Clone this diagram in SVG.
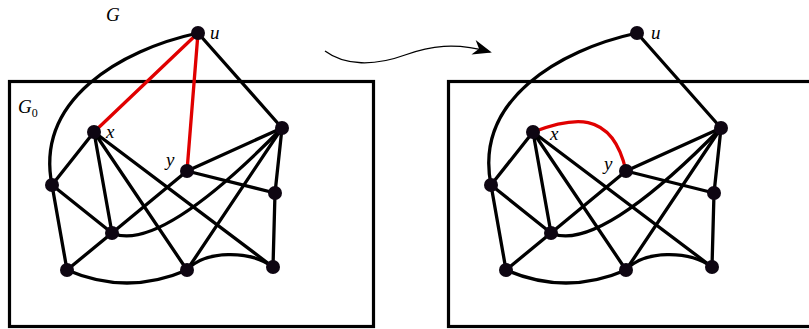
<svg xmlns="http://www.w3.org/2000/svg" width="809" height="329" viewBox="0 0 809 329">
<defs>
<style>
.e{stroke:#000;stroke-width:3.3;fill:none;stroke-linecap:round}
.r{stroke:#e00000;stroke-width:3.3;fill:none;stroke-linecap:round}
.box{stroke:#000;stroke-width:3.2;fill:none}
.n{fill:#0e0612}
.t{font-family:"Liberation Serif",serif;font-style:italic;font-size:19px;fill:#000}
.s{font-family:"Liberation Serif",serif;font-size:12px;fill:#000}
</style>
<marker id="ah" viewBox="0 0 10 10" refX="9" refY="5" markerWidth="19" markerHeight="19" markerUnits="userSpaceOnUse" orient="auto">
<path d="M0,1 L10,5 L0,9 L3,5 Z" fill="#000"/>
</marker>
</defs>
<rect width="809" height="329" fill="#fff"/>
<rect class="box" x="9.5" y="81.5" width="364" height="245"/>
<rect class="box" x="448.5" y="81.5" width="370" height="245"/>
<g id="connectors">
<!-- left graph -->
<path class="e" d="M198,33 C120,50 35,100 52,185"/>
<path class="e" d="M198,33 L282,128"/>
<path class="e" d="M94,132 L52,185 M94,132 L112,233 M94,132 L187,270 M94,132 L273,267"/>
<path class="e" d="M187,171 L282,128 M187,171 L275,193 M187,171 L112,233 L67,270"/>
<path class="e" d="M282,128 L275,193 L273,267 M282,128 L187,270"/>
<path class="e" d="M112,233 C135,243 180,232 282,128"/>
<path class="e" d="M52,185 L112,233 M52,185 L67,270"/>
<path class="e" d="M67,270 Q127,296 187,270"/>
<path class="e" d="M187,270 C205,250 250,250 273,267"/>
<path class="r" d="M198,33 L94,132 M198,33 L187,171"/>
<!-- right graph -->
<path class="e" d="M637,33 C559,50 474,100 491,185"/>
<path class="e" d="M637,33 L721,128"/>
<path class="e" d="M533,132 L491,185 M533,132 L551,233 M533,132 L626,270 M533,132 L712,267"/>
<path class="e" d="M626,171 L721,128 M626,171 L714,193 M626,171 L551,233 L506,270"/>
<path class="e" d="M721,128 L714,193 L712,267 M721,128 L626,270"/>
<path class="e" d="M551,233 C574,243 619,232 721,128"/>
<path class="e" d="M491,185 L551,233 M491,185 L506,270"/>
<path class="e" d="M506,270 Q566,296 626,270"/>
<path class="e" d="M626,270 C644,250 689,250 712,267"/>
<path class="r" d="M533,132 C570,118 612,108 626,171"/>
<!-- transformation arrow -->
<path d="M325,51 C345,66 375,66 405,55 C430,46 455,42 490,52" stroke="#000" stroke-width="1.3" fill="none" marker-end="url(#ah)"/>
</g>
<g id="n-u"><circle class="n" cx="198" cy="33" r="7"/><text class="t" x="210" y="39">u</text></g>
<g id="n-x"><circle class="n" cx="94" cy="132" r="7"/><text class="t" x="106" y="138">x</text></g>
<g id="n-y"><circle class="n" cx="187" cy="171" r="7"/><text class="t" x="166" y="166">y</text></g>
<g id="n-a"><circle class="n" cx="282" cy="128" r="7"/></g>
<g id="n-b"><circle class="n" cx="52" cy="185" r="7"/></g>
<g id="n-c"><circle class="n" cx="112" cy="233" r="7"/></g>
<g id="n-d"><circle class="n" cx="275" cy="193" r="7"/></g>
<g id="n-e"><circle class="n" cx="67" cy="270" r="7"/></g>
<g id="n-f"><circle class="n" cx="187" cy="270" r="7"/></g>
<g id="n-h"><circle class="n" cx="273" cy="267" r="7"/></g>
<g id="n-u2"><circle class="n" cx="637" cy="33" r="7"/><text class="t" x="651" y="39">u</text></g>
<g id="n-x2"><circle class="n" cx="533" cy="132" r="7"/><text class="t" x="550" y="140">x</text></g>
<g id="n-y2"><circle class="n" cx="626" cy="171" r="7"/><text class="t" x="604" y="170">y</text></g>
<g id="n-a2"><circle class="n" cx="721" cy="128" r="7"/></g>
<g id="n-b2"><circle class="n" cx="491" cy="185" r="7"/></g>
<g id="n-c2"><circle class="n" cx="551" cy="233" r="7"/></g>
<g id="n-d2"><circle class="n" cx="714" cy="193" r="7"/></g>
<g id="n-e2"><circle class="n" cx="506" cy="270" r="7"/></g>
<g id="n-f2"><circle class="n" cx="626" cy="270" r="7"/></g>
<g id="n-h2"><circle class="n" cx="712" cy="267" r="7"/></g>
<g id="label-G"><text class="t" x="106" y="21">G</text></g>
<g id="label-G0"><text class="t" x="18" y="113">G<tspan class="s" font-style="normal" dy="4">0</tspan></text></g>
</svg>
